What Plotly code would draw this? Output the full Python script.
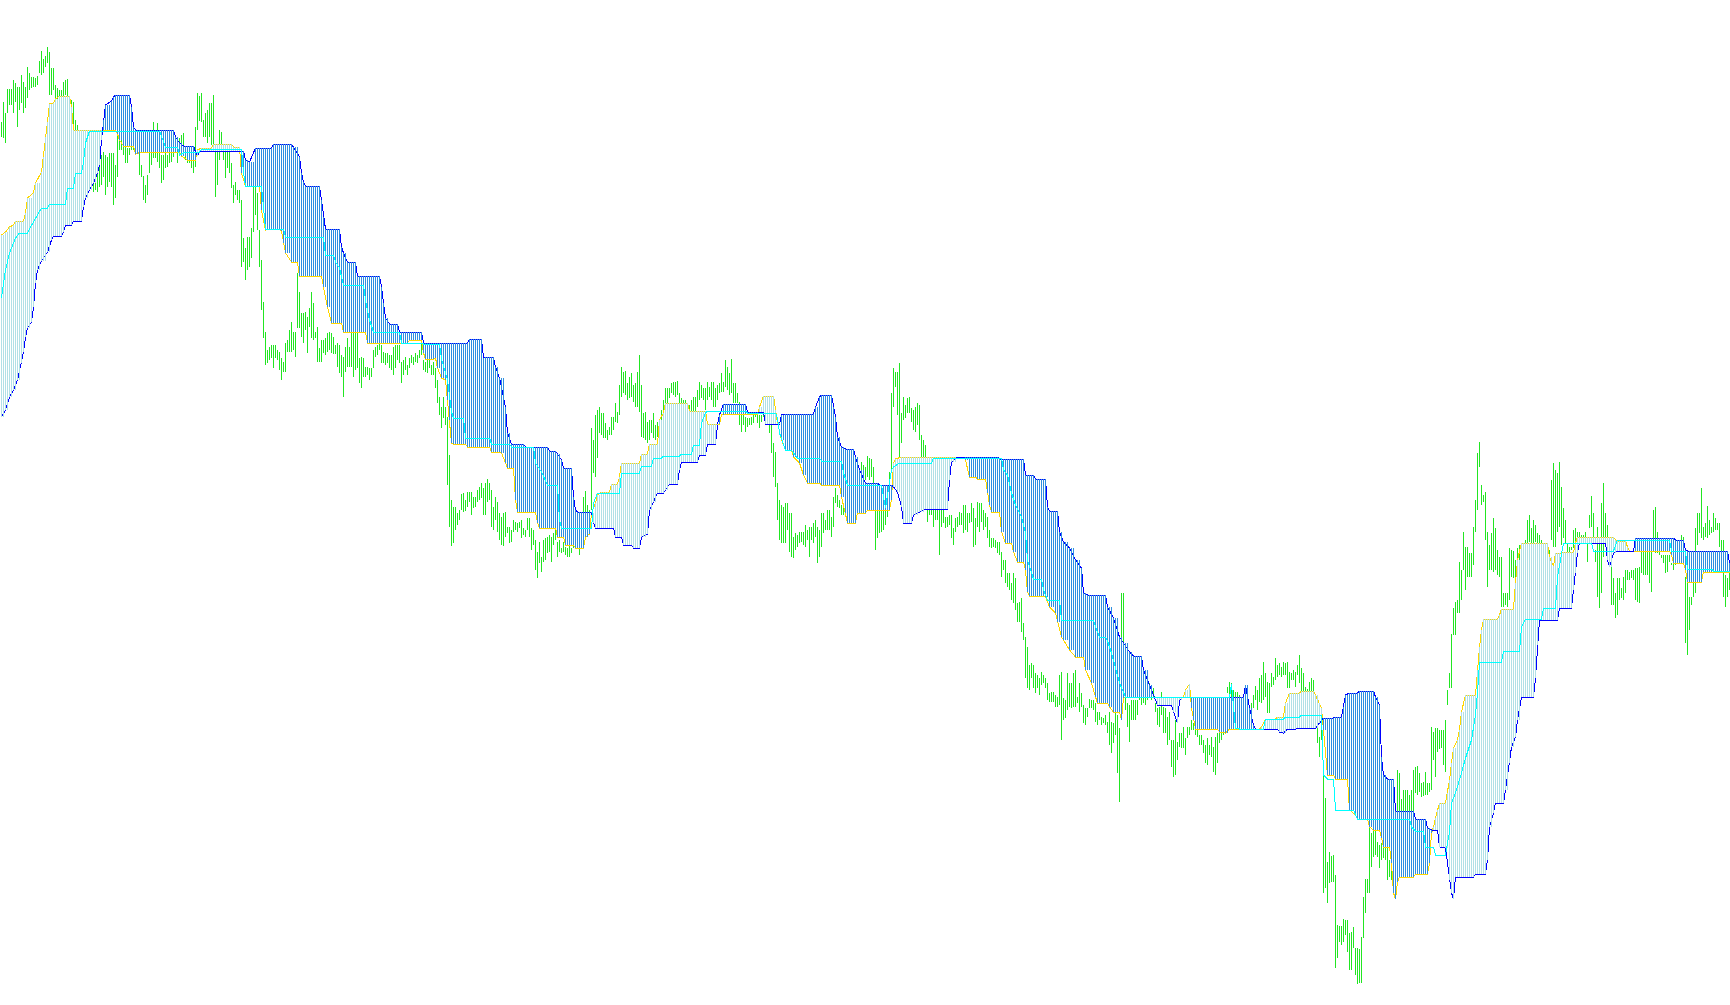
import numpy as np
import plotly.graph_objects as go

# Bar highs / lows per candle (vertical scale has no labels, so values are on a 0-1005 inverted scale)
BAR_TOP = [
122,102,113,89,89,89,80,83,87,87, 75,82,87,67,73,77,77,78,76,61, 51,59,56,47,52,68,68,85,88,90,
90,82,80,79,100,100,102,120,125,130, 135,140,150,155,165,175,183,183,173,165, 155,152,155,157,153,153,153,165,135,135,
135,146,147,148,148,140,140,145,145,152, 165,176,185,175,153,152,122,152,123,152, 155,155,153,155,152,153,152,152,148,138,
135,133,148,152,155,160,155,127,93,96, 93,120,113,110,103,103,95,152,152,130, 132,152,152,152,152,163,185,182,190,190,
200,238,248,237,237,228,187,187,193,230, 260,302,332,350,347,345,345,345,350,352, 358,362,343,340,330,322,332,332,273,292,
313,313,312,317,308,292,303,332,327,348, 340,340,338,333,332,333,337,345,343,345, 355,357,347,338,347,333,333,333,332,358,
357,358,367,367,368,368,350,347,345,340, 345,352,353,353,355,355,347,345,345,345,
362,360,357,365,358,355,357,353,355,350, 343,360,362,358,358,365,362,368,380,397, 407,397,407,417,455,500,507,507,513,510,
494,493,500,492,492,492,497,497,490,487, 483,488,483,479,483,490,507,497,502,513, 517,513,512,527,527,530,520,522,523,522,
520,528,530,518,518,528,530,540,552,542, 557,540,538,537,535,537,533,530,542,540, 548,542,547,548,545,548,545,548,548,548,
513,497,491,505,510,428,440,415,410,407, 413,413,423,430,427,417,417,403,412,385, 367,372,371,383,377,373,385,383,372,355,
385,413,412,422,420,420,413,425,422,420, 410,400,388,388,388,383,382,382,381,393, 398,400,400,405,405,400,397,397,390,382,
385,388,388,382,387,382,382,388,385,383, 373,382,360,367,373,359,383,383,393,402, 413,413,417,418,418,417,413,413,413,415,
415,415,420,420,425,425,443,452,483,500, 505,507,503,503,513,513,537,533,535,532, 532,532,525,530,527,527,523,520,527,530,
513,513,520,510,510,517,497,488,495,500, 505,505,505,505,505,505,505,505,505,470, 462,465,467,456,458,459,467,510,510,510,
510,510,510,507,472,393,368,372,372,363, 413,397,405,398,397,408,410,407,403,405, 435,440,445,510,500,500,510,510,505,510,
510,510,517,517,515,515,528,518,517,512, 513,505,505,513,513,503,508,518,502,503, 503,510,513,517,530,538,538,540,542,542,
552,560,560,573,573,583,573,578,603,602, 598,623,637,647,665,663,665,673,675,678, 672,675,678,683,693,692,692,695,697,675,
672,698,700,673,683,683,673,670,697,683, 693,705,708,708,699,700,700,703,712,712, 717,718,715,722,712,722,723,713,715,728,
593,593,697,703,705,700,700,700,700,695, 695,697,697,693,683,685,688,703,708,707, 692,707,708,717,712,740,740,720,742,733,
733,727,738,727,727,720,723,730,730,735, 735,740,745,738,745,737,747,737,733,733, 732,725,710,687,682,683,690,692,692,695,
700,700,700,705,705,703,695,686,690,678, 675,662,673,682,683,673,677,658,665,663, 667,662,663,662,672,673,670,672,665,655,
668,673,687,689,682,678,680,695,727,737, 717,775,798,862,852,856,855,875,925,926, 926,919,920,920,933,932,927,948,948,949,
937,897,879,879,827,833,830,830,842,845, 843,847,847,848,860,865,865,850,770,773, 799,790,790,790,795,790,770,767,766,773,
783,782,772,783,783,727,732,728,728,730, 730,730,720,690,673,634,608,602,600,562, 570,532,547,547,553,553,527,500,453,442,
485,495,492,532,545,533,518,528,550,557, 557,593,593,593,548,550,551,560,548,545, 545,545,540,520,515,528,520,525,533,535,
540,545,545,545,550,480,463,470,473,462, 487,508,520,543,547,547,530,528,532,532, 535,535,532,543,515,496,513,550,527,540,
503,483,513,525,560,553,578,593,578,578, 588,577,570,570,572,570,570,568,568,567, 552,552,552,552,552,552,510,507,532,552,
555,555,555,555,555,563,560,555,550,545, 535,537,577,577,597,597,582,528,513,513, 488,527,523,506,520,527,513,518,523,523,
540,540,575,578,565]
BAR_BOTTOM = [
137,138,143,113,105,105,113,102,127,110, 103,113,108,98,90,88,87,87,85,73, 75,73,67,63,95,95,90,100,105,115,
115,97,95,97,110,125,127,140,150,160, 165,170,175,180,190,190,192,190,192,187, 185,177,195,187,182,187,205,198,177,150,
150,155,163,163,155,150,150,150,150,175, 177,200,203,195,173,165,158,158,162,168, 183,180,168,167,163,162,157,153,163,155,
155,145,160,163,163,168,173,167,130,121, 122,137,137,143,137,145,145,197,185,160, 152,160,178,168,173,188,203,195,200,203,
267,262,280,270,267,258,232,215,230,267, 310,338,365,363,360,358,368,358,360,370, 380,372,372,352,352,352,350,357,328,328,
337,343,330,353,327,338,340,338,362,362, 362,353,355,352,350,353,354,354,367,373, 377,397,372,367,367,367,377,370,368,383,
388,377,377,375,380,377,368,357,355,350, 363,363,365,363,368,370,375,368,360,363,
383,375,370,375,368,363,365,362,363,358, 355,370,372,373,368,375,375,388,403,415, 428,418,425,485,527,546,543,530,525,520,
510,512,511,507,502,515,508,507,502,500, 498,515,515,502,500,527,530,520,532,540, 545,546,537,533,543,542,532,530,532,528,
538,535,537,530,537,550,545,570,578,563, 572,562,560,553,552,562,545,540,557,552, 553,552,555,557,557,553,548,549,549,555,
548,537,513,533,527,510,473,477,458,433, 435,438,438,440,435,435,430,422,423,415, 397,393,395,400,398,397,402,407,407,412,
437,438,440,443,440,433,438,440,437,440, 437,430,420,403,398,393,395,397,395,403, 403,410,412,415,415,415,412,412,407,400,
398,400,410,400,397,400,407,407,400,393, 392,392,387,390,395,393,403,403,403,425, 432,425,432,427,425,425,423,417,423,428,
422,417,425,425,433,453,477,487,520,540, 543,543,543,530,552,557,558,550,547,543, 542,545,547,540,557,540,543,537,563,557,
547,533,530,530,530,537,527,503,507,508, 515,515,515,515,515,515,515,515,515,490, 473,480,480,477,480,477,483,550,538,533,
532,530,525,517,500,472,407,387,415,457, 443,420,418,413,413,422,430,432,425,440, 457,470,475,522,515,515,527,520,520,555,
527,523,528,527,525,538,545,532,527,525, 525,533,530,532,523,522,547,545,527,532, 522,530,527,538,547,548,547,548,553,555,
577,570,583,587,590,600,603,610,622,622, 632,640,678,688,690,678,688,693,688,695, 685,683,688,700,702,702,702,707,707,705,
740,720,718,710,707,708,707,707,703,712, 707,723,725,717,708,708,710,722,725,720, 725,723,725,733,745,753,743,735,773,802,
643,642,710,727,742,720,720,720,715,700, 705,703,705,700,698,700,698,712,725,727, 715,733,733,745,740,767,777,775,760,747,
748,748,755,738,735,730,730,735,737,745, 745,753,763,765,755,757,772,775,763,743, 740,735,725,693,700,700,705,700,705,710,
712,715,720,720,725,727,708,700,710,702, 703,700,697,713,713,687,685,680,677,675, 677,675,675,688,688,680,680,687,675,683,
692,692,692,692,692,692,692,705,743,757, 740,893,888,903,883,882,882,968,958,942, 945,942,935,952,970,970,948,975,984,983,
983,938,913,893,893,867,857,855,857,868, 860,858,860,880,877,880,880,880,812,812, 812,812,812,812,812,812,812,793,795,792,
797,796,795,795,792,790,760,777,752,749, 748,765,772,705,688,688,635,635,613,613, 600,570,590,577,577,577,565,532,510,467,
505,502,540,587,570,570,572,570,575,577, 607,607,605,607,600,577,578,578,570,565, 555,555,552,543,542,543,543,542,543,550,
555,560,565,560,570,540,547,547,532,527, 545,538,543,552,552,550,548,553,543,538, 538,538,538,562,528,527,543,562,597,608,
593,557,540,552,565,605,605,618,615,600, 598,600,593,580,580,578,580,600,602,603, 573,575,575,575,583,592,552,553,553,555,
558,563,573,572,562,565,570,565,560,555, 543,552,643,655,630,605,597,593,545,533, 538,540,537,538,535,533,532,530,530,547,
563,597,607,597,590]

# Leading spans: candle where each level begins, and the level
SPAN_A_START = [0,2,4,6,7,12,13,16,17,20,21,22,23,24,26,27,29,35,36,58,59,61,67,70,90,93,98,100,106,116,120,122,130,132,134,140,141,142,145,149,161,163,165,171,183,204,211,212,217,218,220,222,223,224,225,226,233,245,250,252,253,257,258,268,269,278,282,287,292,294,295,297,298,300,305,309,310,320,324,329,331,332,344,353,360,362,379,381,387,388,390,392,396,399,401,403,410,420,422,423,428,433,445,446,447,450,482,484,488,493,494,495,500,502,506,508,512,513,514,522,524,527,528,530,531,534,537,542,545,547,548,554,556,560,561,562,592,594,595,596,597,609,612,614,630,632,638,642,644,650,657,659,660,661,663,667,674,677,678,684,686,690,691,695,696,697,698,699,707,714,715,716,717,718,719,723,724,725,726,728,729,730,732,738,739,740,741,749,750,757,758,760,774,776,777,781,787,788,807,808,813,814,835,836,842,843,851]
SPAN_A_LEVEL = [235,232,227,225,221,213,198,193,183,172,157,137,122,104,103,99,96,107,130,134,140,146,154,152,156,160,150,148,144,147,173,186,210,230,229,231,243,253,262,276,287,307,323,332,343,340,353,359,358,368,378,380,400,420,443,444,447,452,453,463,468,500,512,523,528,537,545,548,537,534,513,503,495,492,484,477,463,454,444,420,413,403,411,424,415,414,407,396,410,423,440,450,457,463,475,483,485,497,513,523,513,510,500,463,459,457,460,477,479,493,505,512,532,543,552,562,570,592,596,597,607,613,622,637,640,650,657,670,683,697,703,707,712,720,698,697,690,684,708,720,729,732,733,729,727,719,717,703,693,691,695,703,708,730,775,779,810,815,819,827,830,838,847,863,893,899,882,877,874,863,833,827,818,810,803,793,780,763,748,740,730,712,695,670,647,630,619,615,609,583,560,543,557,566,553,552,543,537,540,541,547,551,555,563,570,582,572]

SPAN_B_START = [0,2,4,6,8,10,11,12,13,15,16,17,18,20,23,25,26,31,32,36,41,42,44,46,48,49,50,51,52,55,56,57,65,66,67,87,89,91,97,98,99,100,122,124,127,136,146,149,150,151,152,160,161,162,170,171,173,178,190,191,192,194,199,211,234,241,242,247,249,252,253,255,262,274,278,280,281,286,287,288,296,297,307,311,316,320,323,324,326,328,332,334,339,340,349,353,358,359,361,373,382,390,392,407,409,410,416,417,418,420,422,427,429,432,439,446,448,450,451,456,459,462,474,475,478,499,512,517,523,524,529,531,534,537,540,541,543,553,556,559,561,564,566,571,574,576,578,586,588,589,591,622,624,626,627,639,641,643,648,657,659,661,667,671,672,674,679,687,689,690,691,693,697,707,713,715,719,722,724,725,726,727,737,743,744,746,747,752,754,755,757,758,760,767,768,769,779,786,787,788,789,803,804,806,808,817,837,842,843,864]
SPAN_B_LEVEL = [417,410,397,390,380,363,352,337,328,322,307,283,270,261,252,240,236,232,225,221,207,198,190,183,173,165,140,120,105,101,97,95,107,127,130,137,143,146,152,156,152,151,160,162,148,144,147,157,173,182,186,200,217,229,247,253,262,276,287,303,318,324,332,343,339,358,357,367,378,407,433,444,447,451,454,460,468,497,510,512,523,528,537,545,548,537,534,510,502,493,490,484,470,462,455,444,425,415,404,412,424,415,414,407,397,395,407,417,437,447,449,457,470,483,485,487,492,507,523,515,512,509,480,462,457,459,475,479,507,511,532,542,548,560,568,593,595,607,618,637,643,652,656,670,685,697,705,712,723,700,697,685,708,725,729,732,733,729,728,728,723,718,717,707,695,693,691,697,705,757,775,779,811,819,828,830,847,848,880,893,899,877,874,860,827,813,803,790,763,747,737,720,697,678,645,620,608,590,573,553,543,560,567,553,551,538,540,550,551,563]

LINE_C_START = [0,2,4,7,9,14,17,20,24,33,37,41,42,44,80,82,89,92,100,121,122,131,132,142,162,167,169,171,182,184,186,200,211,220,223,225,226,232,245,255,267,270,273,279,280,296,298,310,320,326,331,340,346,350,352,353,373,388,389,392,396,398,410,421,423,441,442,445,446,449,466,501,503,505,507,510,512,513,515,516,521,523,530,547,549,553,555,557,559,562,615,616,617,619,632,642,650,661,663,667,677,678,705,707,712,717,723,724,725,727,730,732,735,736,737,738,739,751,760,762,771,778,781,796,807,808,835,843,856]
LINE_C_LEVEL = [298,270,253,238,233,229,218,208,204,188,173,162,143,131,137,147,155,152,149,173,186,205,229,237,255,262,268,285,300,320,332,343,344,359,380,412,418,438,444,447,463,472,485,520,528,503,493,473,466,458,456,454,445,423,413,411,413,418,433,450,453,458,461,473,485,497,508,470,467,463,458,470,475,493,505,517,533,560,573,579,590,600,620,627,637,641,653,667,683,697,684,703,728,729,719,717,715,775,779,810,815,819,827,831,847,855,843,833,803,793,773,758,740,725,715,693,662,651,627,619,608,577,543,551,545,540,551,569,571]

COLOR_BAR = "#22E622"
COLOR_A = "#FFD700"
COLOR_B = "#0000FF"
COLOR_C = "#00FFFF"
COLOR_HATCH_UP = "#B0E0E6"
COLOR_HATCH_DOWN = "#2E8FE0"

n = len(BAR_TOP)
idx = np.arange(n)


def expand(starts, levels):
    counts = np.diff(list(starts) + [n])
    return np.repeat(levels, counts)


def polyline(starts, levels):
    """Line through the read levels; a long plateau is held to its last candle."""
    xs, ys = [], []
    ends = list(starts[1:]) + [n]
    for s, e, v in zip(starts, ends, levels):
        xs.append(s)
        ys.append(v)
        if e - s >= 4:
            xs.append(e - 1)
            ys.append(v)
    return xs, ys


span_a = expand(SPAN_A_START, SPAN_A_LEVEL)
span_b = expand(SPAN_B_START, SPAN_B_LEVEL)


def segments(xs, y0, y1):
    X, Y = [], []
    for x, a, b in zip(xs, y0, y1):
        X += [int(x), int(x), None]
        Y += [float(a), float(b), None]
    return X, Y


fig = go.Figure()
bx, by = segments(idx, BAR_TOP, BAR_BOTTOM)
fig.add_trace(go.Scatter(x=bx, y=by, mode="lines", line=dict(color=COLOR_BAR, width=1), hoverinfo="skip"))
ax, ay = polyline(SPAN_A_START, SPAN_A_LEVEL)
fig.add_trace(go.Scatter(x=ax, y=ay, mode="lines", line=dict(color=COLOR_A, width=1), hoverinfo="skip"))
b_x, b_y = polyline(SPAN_B_START, SPAN_B_LEVEL)
fig.add_trace(go.Scatter(x=b_x, y=b_y, mode="lines", line=dict(color=COLOR_B, width=1), hoverinfo="skip"))
up = span_a < span_b
down = span_a > span_b
ux, uy = segments(idx[up], span_a[up], span_b[up])
dx, dy = segments(idx[down], span_a[down], span_b[down])
fig.add_trace(go.Scatter(x=ux, y=uy, mode="lines", line=dict(color=COLOR_HATCH_UP, width=1), hoverinfo="skip"))
fig.add_trace(go.Scatter(x=dx, y=dy, mode="lines", line=dict(color=COLOR_HATCH_DOWN, width=1), hoverinfo="skip"))
cx, cy = polyline(LINE_C_START, LINE_C_LEVEL)
fig.add_trace(go.Scatter(x=cx, y=cy, mode="lines", line=dict(color=COLOR_C, width=1), hoverinfo="skip"))

fig.update_layout(
    width=1730, height=1005, margin=dict(l=0, r=0, t=0, b=0),
    paper_bgcolor="white", plot_bgcolor="white", showlegend=False,
    xaxis=dict(range=[-0.75, 864.25], visible=False, fixedrange=True),
    yaxis=dict(range=[1005, 0], visible=False, fixedrange=True),
)
fig.write_html("out.html", config={"displayModeBar": False},
               post_script="document.body.style.margin='0';document.body.style.overflow='hidden';"
               "document.querySelectorAll('.scatterlayer path').forEach(function(p){p.style.shapeRendering='crispEdges';});")
